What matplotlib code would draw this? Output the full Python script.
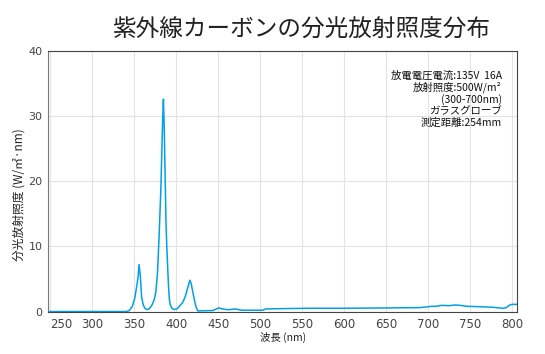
import matplotlib
matplotlib.use("Agg")
import matplotlib.pyplot as plt

plt.rcParams["font.family"] = ["Noto Sans CJK JP", "DejaVu Sans"]

# ---------------------- データ ----------------------
TITLE = "紫外線カーボンの分光放射照度分布"
X_LABEL = "波長 (nm)"
Y_LABEL = "分光放射照度 (W/㎡·nm)"
NOTE_LINES = ["放電電圧電流:135V  16A", "放射照度:500W/m²", "(300-700nm)",
              "ガラスグローブ", "測定距離:254mm"]

x_ticks = [250, 300, 350, 400, 450, 500, 550, 600, 650, 700, 750, 800]
y_ticks = [0, 10, 20, 30, 40]

wavelength = [248, 340, 344, 348, 351, 354, 355, 356, 357.5, 359, 361, 363, 365,
              368, 371, 374, 376, 378, 380, 382, 383, 384, 385, 386, 387, 388,
              389, 390, 391, 392, 393, 395, 398, 401, 404, 408, 411, 414, 416.5,
              418, 420, 422, 424, 426, 444, 448, 451, 455, 460, 465, 470, 474,
              478, 503, 507, 530, 560, 600, 650, 690, 698, 704, 710, 716, 725,
              732, 738, 746, 760, 777, 789, 793, 797, 800, 806]
irradiance = [0, 0, 0.1, 0.8, 2.1, 4.5, 5.5, 7.2, 5.5, 2.3, 1.0, 0.5, 0.3,
              0.4, 0.9, 1.8, 3.0, 6.0, 12.0, 19.0, 24.0, 29.0, 32.6, 28.0, 21.0, 14.0,
              10.0, 7.0, 4.0, 2.0, 1.1, 0.5, 0.3, 0.4, 0.8, 1.4, 2.3, 3.7, 4.8,
              4.3, 3.0, 1.7, 0.6, 0.1, 0.15, 0.4, 0.55, 0.4, 0.3, 0.3, 0.4, 0.3,
              0.2, 0.2, 0.4, 0.45, 0.5, 0.5, 0.55, 0.6, 0.7, 0.8, 0.8, 0.95, 0.9,
              1.0, 0.95, 0.8, 0.75, 0.65, 0.5, 0.6, 1.0, 1.1, 1.1]

# ---------------------- 描画 ----------------------
fig = plt.figure(figsize=(5.45, 3.54), dpi=100)
ax = fig.add_axes([0.088, 0.12, 0.861, 0.736])

ax.plot(wavelength, irradiance, color="#00a0e9", linewidth=1.1)

ax.set_xlim(247.6, 806)
ax.set_ylim(0, 40)
ax.set_xticks(x_ticks)
ax.set_yticks(y_ticks)
ax.tick_params(length=0, labelsize=8.5, labelcolor="#444444")
ax.tick_params(axis="x", pad=5)
ax.tick_params(axis="y", pad=4, labelsize=8)
for lbl in ax.get_xticklabels() + ax.get_yticklabels():
    lbl.set_fontfamily("DejaVu Sans")
ax.get_xticklabels()[0].set_horizontalalignment("left")
ax.grid(True, color="#e3e3e3", linewidth=0.8)
ax.set_axisbelow(True)

for side in ["top", "bottom", "right"]:
    ax.spines[side].set_color("#444444")
ax.spines["left"].set_color("#777777")

ax.set_xlabel(X_LABEL, fontsize=7.5, color="#222222")
ax.xaxis.set_label_coords(0.5, -0.079)
ax.set_ylabel(Y_LABEL, fontsize=8.5, color="#222222")
ax.yaxis.set_label_coords(-0.047, 0.447)

fig.text(0.552, 0.915, TITLE, fontsize=17, ha="center", va="center", color="#222222")

ax.text(0.967, 0.925, "\n".join(NOTE_LINES), transform=ax.transAxes,
        ha="right", va="top", fontsize=7.5, linespacing=1.12, color="#111111",
        multialignment="right")

plt.savefig("out.png", dpi=100)
